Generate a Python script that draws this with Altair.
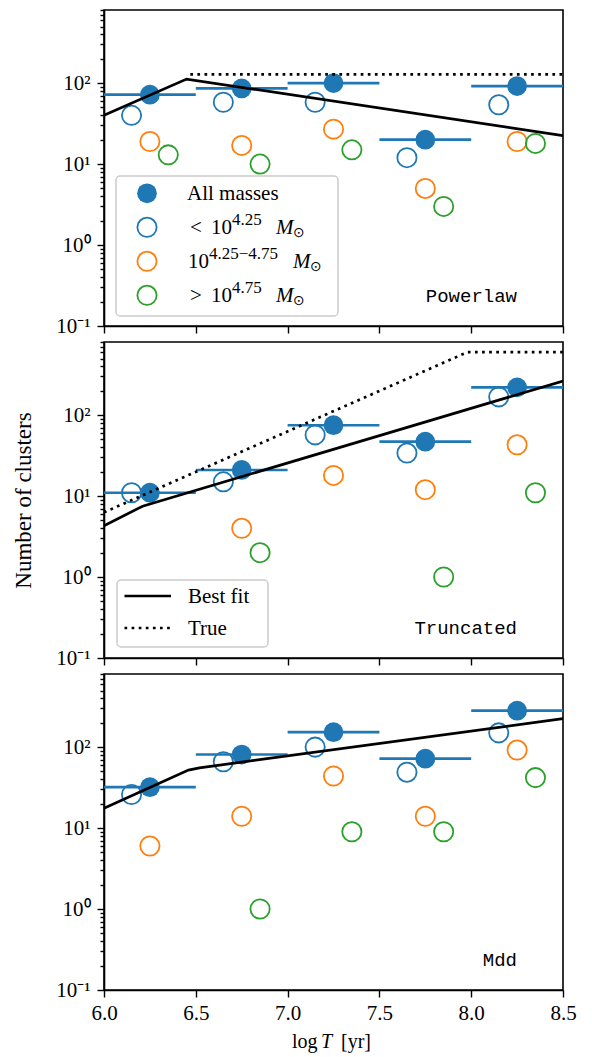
import altair as alt
import pandas as pd

SERIF = "Liberation Serif"
MONO = "Liberation Mono"
SYM = "DejaVu Sans"
BLUE, ORANGE, GREEN = "#1f77b4", "#ff7f0e", "#2ca02c"

# ---------------- data ----------------
bin_lo = [6.0, 6.5, 7.0, 7.5, 8.0]
bin_hi = [6.5, 7.0, 7.5, 8.0, 8.5]
x_all = [6.25, 6.75, 7.25, 7.75, 8.25]
x_low = [6.15, 6.65, 7.15, 7.65, 8.15]
x_mid = [6.25, 6.75, 7.25, 7.75, 8.25]
x_high = [6.35, 6.85, 7.35, 7.85, 8.35]

# Powerlaw
pl_all = [72, 86, 100, 20, 92]
pl_low = [40, 58, 58, 12, 54]
pl_mid = [19, 17, 27, 5, 19]
pl_high = [13, 10, 15, 3, 18]
pl_fit_x = [6.0, 6.45, 8.5]
pl_fit_y = [40, 112, 22.5]
pl_true_x = [6.47, 8.5]
pl_true_y = [128, 128]

# Truncated
tr_all = [11, 21, 75, 47, 220]
tr_low = [11, 15, 57, 34, 168]
tr_mid = [None, 4, 18, 12, 43]
tr_high = [None, 2, None, 1, 11]
tr_fit_x = [6.0, 6.21, 8.5]
tr_fit_y = [4.3, 7.5, 264]
tr_true_x = [6.0, 7.98, 8.5]
tr_true_y = [6.3, 600, 600]

# Mdd
md_all = [32, 81, 153, 72, 282]
md_low = [26, 66, 100, 49, 150]
md_mid = [6, 14, 44, 14, 92]
md_high = [None, 1, 9, 9, 42]
md_fit_x = [6.0, 6.46, 6.52, 8.5]
md_fit_y = [17.6, 52, 55.5, 225]

x_ticks = [6.0, 6.5, 7.0, 7.5, 8.0, 8.5]
y_major = [0.1, 1, 10, 100]
y_major_labels = ["10\u207b\u00b9", "10\u2070", "10\u00b9", "10\u00b2"]
y_minor = [m / 10 for m in range(1, 10)] + list(range(1, 10)) + \
          [m * 10 for m in range(1, 10)] + [m * 100 for m in range(1, 9)]

series_names = ["low", "mid", "high"]
series_colors = [BLUE, ORANGE, GREEN]

W, H = 459, 316

# ---------------- scales / axes ----------------
xs = alt.Scale(domain=[6.0, 8.5], nice=False, zero=False)
ys = alt.Scale(type="log", domain=[0.1, 800], nice=False)

label_expr = " : ".join(
    f"datum.value == {v} ? '{l}'" for v, l in zip(y_major, y_major_labels)
) + " : ''"
major_test = "indexof([" + ", ".join(str(v) for v in y_major) + "], datum.value) >= 0"

y_axis_kw = dict(
    values=y_minor,
    labelExpr=label_expr,
    tickSize={"condition": {"test": major_test, "value": 7}, "value": 4},
    labelFontSize={"condition": {"test": major_test, "value": 21}, "value": 0},
    tickWidth=1.4, tickColor="black", domainColor="black", domainWidth=1.6,
    labelFont=SERIF, labelColor="black", labelPadding=7,
    labelOverlap=False, grid=False, titleFont=SERIF, titleFontSize=23,
    titleFontWeight="normal", titleColor="black",
)


def x_axis(show):
    return alt.Axis(values=x_ticks, format=".1f", labels=show, title=None,
                    tickSize=7, tickWidth=1.4, tickColor="black",
                    domainColor="black", domainWidth=1.6, labelFont=SERIF,
                    labelFontSize=21, labelColor="black", labelPadding=5,
                    grid=False, labelFlush=False)


one = pd.DataFrame({"k": [0]})


def txt(s, x, y, size=21, font=SERIF, style="normal", align="left", baseline="alphabetic"):
    return alt.Chart(one).mark_text(
        text=s, fontSize=size, font=font, fontStyle=style, align=align,
        baseline=baseline, color="black"
    ).encode(x=alt.value(x), y=alt.value(y))


def panel(all_, low, mid, high, fit_x, fit_y, true_x, true_y, label, show_x, ytitle, extras):
    xa = x_axis(show_x)
    ya = alt.Axis(title=ytitle, titlePadding=20, **y_axis_kw) if ytitle else alt.Axis(title=None, **y_axis_kw)
    X = lambda f: alt.X(f, type="quantitative", scale=xs, axis=xa)
    Y = lambda f: alt.Y(f, type="quantitative", scale=ys, axis=ya)

    bars = pd.DataFrame({"x": bin_lo, "x2": bin_hi, "y": all_})
    rows = []
    for name, xv, vals in zip(series_names, [x_low, x_mid, x_high], [low, mid, high]):
        for xx, v in zip(xv, vals):
            if v is not None:
                rows.append({"x": xx, "y": v, "s": name})
    pts = pd.DataFrame(rows)
    allp = pd.DataFrame({"x": x_all, "y": all_})

    layers = [
        alt.Chart(bars).mark_rule(color=BLUE, strokeWidth=2.7).encode(x=X("x"), x2="x2", y=Y("y")),
        alt.Chart(pts).mark_point(shape="circle", filled=False, size=370, strokeWidth=1.8, opacity=1).encode(
            x=X("x"), y=Y("y"),
            color=alt.Color("s:N", scale=alt.Scale(domain=series_names, range=series_colors), legend=None)),
        alt.Chart(allp).mark_circle(size=390, color=BLUE, opacity=1).encode(x=X("x"), y=Y("y")),
        alt.Chart(pd.DataFrame({"x": fit_x, "y": fit_y})).mark_line(
            color="black", strokeWidth=2.7, clip=True).encode(x=X("x"), y=Y("y")),
    ]
    if true_x is not None:
        layers.append(alt.Chart(pd.DataFrame({"x": true_x, "y": true_y})).mark_line(
            color="black", strokeWidth=2.7, strokeDash=[2.7, 4.4], clip=True).encode(x=X("x"), y=Y("y")))
    layers += extras
    layers.append(txt(label, 413, 292, size=19, font=MONO, align="right"))
    return alt.layer(*layers).properties(width=W, height=H)


# ---------------- legends ----------------
def legend_box(x1, x2, y1, y2):
    return alt.Chart(one).mark_rect(fill="white", fillOpacity=0.8, stroke="#cccccc",
                                    strokeWidth=1.5, cornerRadius=4).encode(
        x=alt.value(x1), x2=alt.value(x2), y=alt.value(y1), y2=alt.value(y2))


sym_x = 43
rows_y = [183.3, 217.3, 251.3, 285.3]
leg1 = [legend_box(12, 234, 166, 306),
        alt.Chart(one).mark_circle(size=390, color=BLUE, opacity=1).encode(
            x=alt.value(sym_x), y=alt.value(rows_y[0]))]
for c, yy in zip(series_colors, rows_y[1:]):
    leg1.append(alt.Chart(one).mark_point(shape="circle", filled=False, size=370,
                                           strokeWidth=1.8, color=c, opacity=1).encode(
        x=alt.value(sym_x), y=alt.value(yy)))
b = [y + 7 for y in rows_y]
leg1 += [
    txt("All masses", 83, b[0]),
    txt("<", 86, b[1]), txt("10", 107, b[1]), txt("4.25", 128, b[1] - 9, size=17),
    txt("M", 172, b[1], style="italic"), txt("\u2299", 189, b[1] + 3, size=14, font=SYM),
    txt("10", 84, b[2]), txt("4.25\u22124.75", 105, b[2] - 9, size=17),
    txt("M", 189, b[2], style="italic"), txt("\u2299", 206, b[2] + 3, size=14, font=SYM),
    txt(">", 86, b[3]), txt("10", 107, b[3]), txt("4.75", 128, b[3] - 9, size=17),
    txt("M", 172, b[3], style="italic"), txt("\u2299", 189, b[3] + 3, size=14, font=SYM),
]

leg2 = [legend_box(13, 164, 238, 305),
        alt.Chart(one).mark_rule(color="black", strokeWidth=2.7).encode(
            x=alt.value(20.5), x2=alt.value(67), y=alt.value(254)),
        alt.Chart(one).mark_rule(color="black", strokeWidth=2.7, strokeDash=[2.7, 4.4]).encode(
            x=alt.value(20.5), x2=alt.value(67), y=alt.value(286)),
        txt("Best fit", 84, 261), txt("True", 84, 293)]

xtitle = [txt("log", 188, H + 58, size=20), txt("T", 217, H + 58, size=20, style="italic"),
          txt("[yr]", 237, H + 58, size=20)]

p1 = panel(pl_all, pl_low, pl_mid, pl_high, pl_fit_x, pl_fit_y, pl_true_x, pl_true_y,
           "Powerlaw", False, None, leg1)
p2 = panel(tr_all, tr_low, tr_mid, tr_high, tr_fit_x, tr_fit_y, tr_true_x, tr_true_y,
           "Truncated", False, "Number of clusters", leg2)
p3 = panel(md_all, md_low, md_mid, md_high, md_fit_x, md_fit_y, None, None,
           "Mdd", True, None, xtitle)

chart = alt.vconcat(p1, p2, p3, spacing=16, bounds="flush").properties(
    padding={"left": 3, "top": 0, "right": 5, "bottom": 5}
).configure(background="white").configure_view(stroke="black", strokeWidth=1.6)

chart.save("out.html", embed_options={"renderer": "svg", "actions": False})
